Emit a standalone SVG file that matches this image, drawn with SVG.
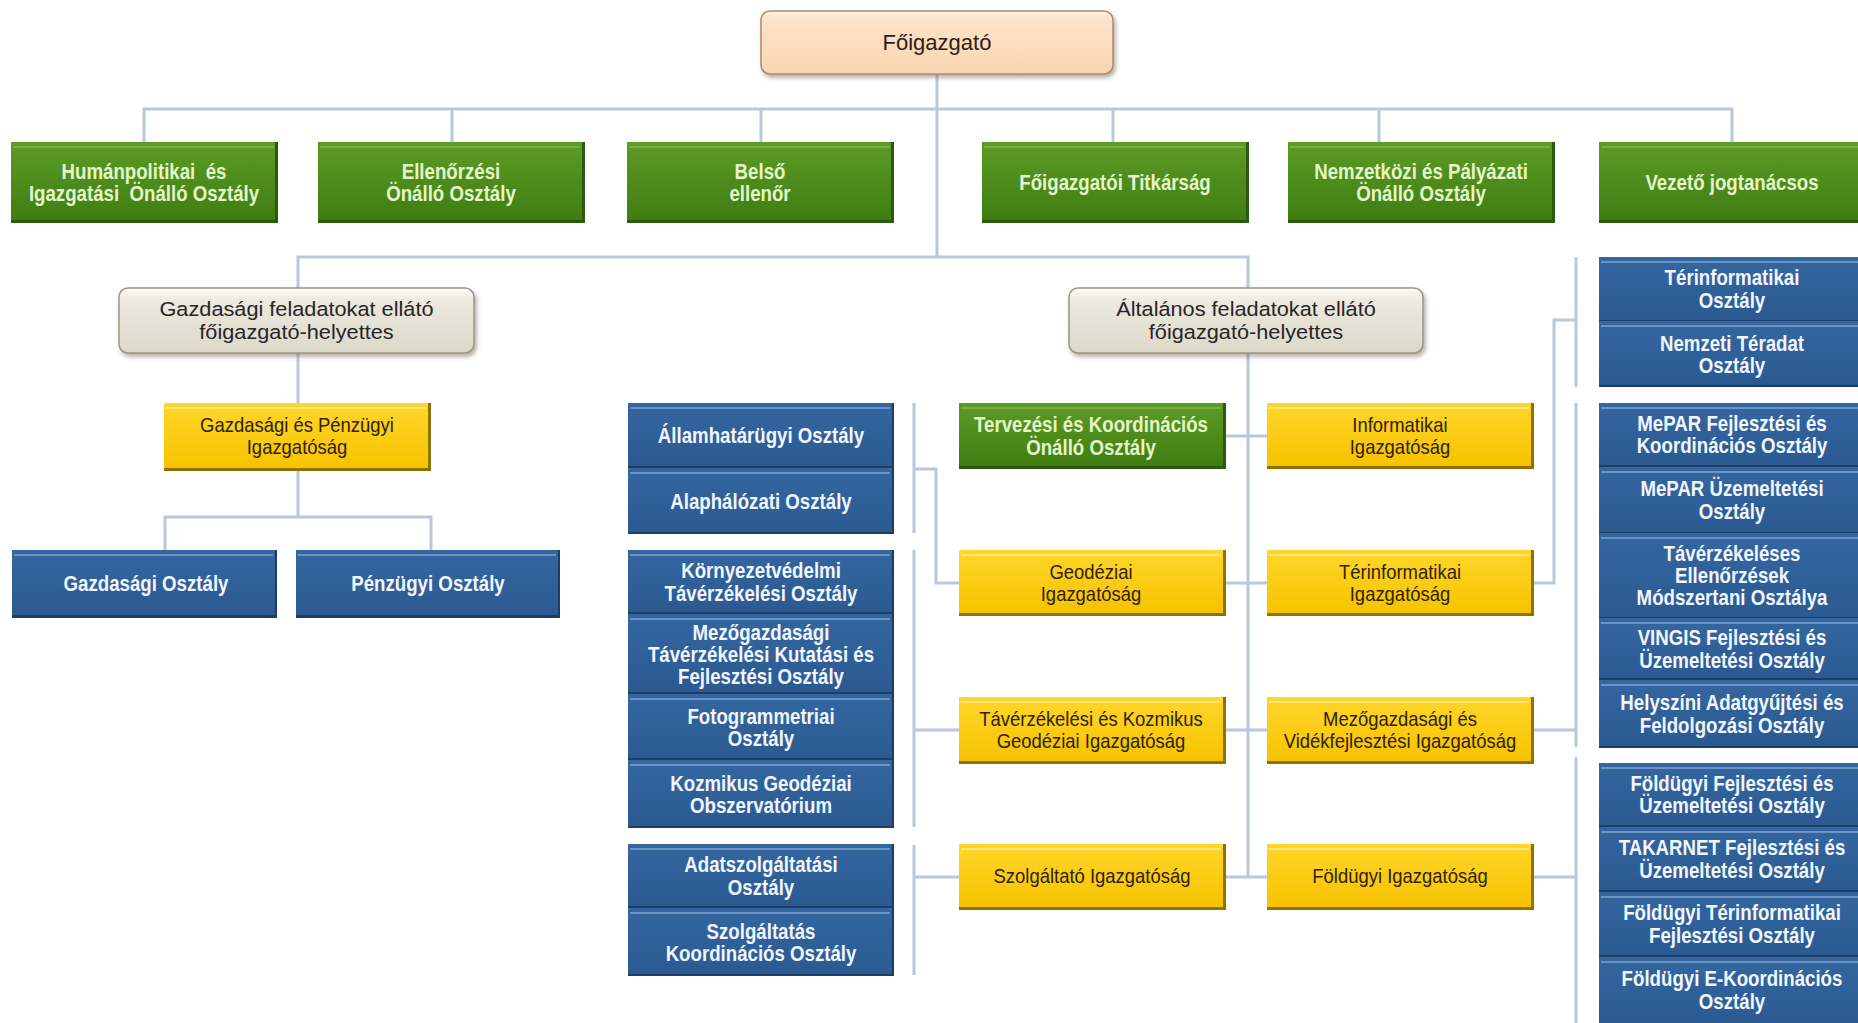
<svg xmlns="http://www.w3.org/2000/svg" width="1858" height="1023" viewBox="0 0 1858 1023">
<defs>
<linearGradient id="gPeach" x1="0" y1="0" x2="0" y2="1"><stop offset="0" stop-color="#fff2e2"/><stop offset="0.15" stop-color="#fde3c8"/><stop offset="1" stop-color="#f9d5b0"/></linearGradient>
<linearGradient id="gGrey" x1="0" y1="0" x2="0" y2="1"><stop offset="0" stop-color="#fbfaf5"/><stop offset="0.2" stop-color="#ede9df"/><stop offset="1" stop-color="#ddd8c9"/></linearGradient>
<linearGradient id="gGreen" x1="0" y1="0" x2="0" y2="1"><stop offset="0" stop-color="#5c9c26"/><stop offset="1" stop-color="#3f7d12"/></linearGradient>
<linearGradient id="gYellow" x1="0" y1="0" x2="0" y2="1"><stop offset="0" stop-color="#ffd62a"/><stop offset="1" stop-color="#f7c300"/></linearGradient>
<linearGradient id="gBlue" x1="0" y1="0" x2="0" y2="1"><stop offset="0" stop-color="#3466a0"/><stop offset="1" stop-color="#2b5a91"/></linearGradient>
<filter id="fs" x="-5%" y="-10%" width="112%" height="130%"><feDropShadow dx="2" dy="3" stdDeviation="2" flood-color="#5a4a3a" flood-opacity="0.45"/></filter>
</defs>
<style>
.bg{fill:#ffffff}
.con{fill:none;stroke:#b9c8dc;stroke-width:3}
.peach{fill:url(#gPeach);stroke:#a88c70;stroke-width:1.5;filter:url(#fs)}
.grey{fill:url(#gGrey);stroke:#9a9686;stroke-width:1.5;filter:url(#fs)}
.gsh{fill:#2c5a0b}
.green{fill:url(#gGreen)}
.ghl{stroke:#78b046;stroke-width:2}
.ysh{fill:#8f7200}
.yellow{fill:url(#gYellow)}
.yhl{stroke:#ffe680;stroke-width:2}
.bsh{fill:#1c3d66}
.blue{fill:url(#gBlue)}
.bhl{stroke:#6a93c4;stroke-width:2}
text{text-anchor:middle;font-family:"Liberation Sans",Arial,sans-serif}
.tp{font-size:22px;fill:#2a2218}
.td{font-size:20.5px;fill:#262626}
.tw{font-size:22.5px;font-weight:bold;fill:#f1f6ff}
.tgw{font-size:22.5px;font-weight:bold;fill:#e4f6c8}
.ty{font-size:20.5px;fill:#2e2200}
</style>
<rect class="bg" x="0" y="0" width="1858" height="1023"/>

<g id="connectors">
<path class="con" d="M937 74V257"/>
<path class="con" d="M144 142V109H1732V142M452 109V142M761 109V142M1113 109V142M1379 109V142"/>
<path class="con" d="M298 288V257H1248V877"/>
<path class="con" d="M298 353V403M298 470V517M165 550V517H431V550"/>
<path class="con" d="M1225 436H1267M1225 583H1267M1225 730H1267M1225 877H1267"/>
<path class="con" d="M914 403V533M914 469H936V583H959"/>
<path class="con" d="M914 550V827M914 730H959"/>
<path class="con" d="M914 845V975M914 877H959"/>
<path class="con" d="M1576 257V387M1533 583H1554V320H1576"/>
<path class="con" d="M1576 403V747M1533 730H1576"/>
<path class="con" d="M1576 757V1023M1533 877H1576"/>
</g>

<g id="n-foigazgato"><rect class="peach" x="761" y="11" width="352" height="63" rx="9"/><text class="tp" x="937" y="50">Főigazgató</text></g>

<g id="n-humanpol"><rect class="gsh" x="11" y="142" width="267" height="81"/><rect class="green" x="11" y="142" width="264" height="78"/><line class="ghl" x1="13" y1="147" x2="273" y2="147"/><text class="tgw" transform="translate(144 0) scale(0.83 1)" style="white-space:pre"><tspan x="0" y="178.75">Humánpolitikai  és</tspan><tspan x="0" y="201.25">Igazgatási  Önálló Osztály</tspan></text></g>
<g id="n-ellenorzesi"><rect class="gsh" x="318" y="142" width="267" height="81"/><rect class="green" x="318" y="142" width="264" height="78"/><line class="ghl" x1="320" y1="147" x2="580" y2="147"/><text class="tgw" transform="translate(451 0) scale(0.83 1)"><tspan x="0" y="178.75">Ellenőrzési</tspan><tspan x="0" y="201.25">Önálló Osztály</tspan></text></g>
<g id="n-belso"><rect class="gsh" x="627" y="142" width="267" height="81"/><rect class="green" x="627" y="142" width="264" height="78"/><line class="ghl" x1="629" y1="147" x2="889" y2="147"/><text class="tgw" transform="translate(760 0) scale(0.83 1)"><tspan x="0" y="178.75">Belső</tspan><tspan x="0" y="201.25">ellenőr</tspan></text></g>
<g id="n-titkarsag"><rect class="gsh" x="982" y="142" width="267" height="81"/><rect class="green" x="982" y="142" width="264" height="78"/><line class="ghl" x1="984" y1="147" x2="1244" y2="147"/><text class="tgw" transform="translate(1115 0) scale(0.83 1)" x="0" y="190">Főigazgatói Titkárság</text></g>
<g id="n-nemzetkozi"><rect class="gsh" x="1288" y="142" width="267" height="81"/><rect class="green" x="1288" y="142" width="264" height="78"/><line class="ghl" x1="1290" y1="147" x2="1550" y2="147"/><text class="tgw" transform="translate(1421 0) scale(0.83 1)"><tspan x="0" y="178.75">Nemzetközi és Pályázati</tspan><tspan x="0" y="201.25">Önálló Osztály</tspan></text></g>
<g id="n-jogtanacsos"><rect class="gsh" x="1599" y="142" width="267" height="81"/><rect class="green" x="1599" y="142" width="264" height="78"/><line class="ghl" x1="1601" y1="147" x2="1861" y2="147"/><text class="tgw" transform="translate(1732 0) scale(0.83 1)" x="0" y="190">Vezető jogtanácsos</text></g>

<g id="n-gazd-helyettes"><rect class="grey" x="119" y="288" width="355" height="65" rx="9"/><text class="td" transform="translate(296.5 0) scale(1.06 1)"><tspan x="0" y="316.2">Gazdasági feladatokat ellátó</tspan><tspan x="0" y="339.2">főigazgató-helyettes</tspan></text></g>
<g id="n-alt-helyettes"><rect class="grey" x="1069" y="288" width="354" height="65" rx="9"/><text class="td" transform="translate(1246 0) scale(1.06 1)"><tspan x="0" y="316.2">Általános feladatokat ellátó</tspan><tspan x="0" y="339.2">főigazgató-helyettes</tspan></text></g>

<g id="n-gp-igazgatosag"><rect class="ysh" x="164" y="403" width="267" height="68"/><rect class="yellow" x="164" y="403" width="264" height="65"/><line class="yhl" x1="166" y1="408" x2="426" y2="408"/><text class="ty" transform="translate(297 0) scale(0.9 1)"><tspan x="0" y="432">Gazdasági és Pénzügyi</tspan><tspan x="0" y="454">Igazgatóság</tspan></text></g>
<g id="n-gazdasagi-osztaly"><rect class="bsh" x="12" y="550" width="265" height="68"/><rect class="blue" x="12" y="550" width="263" height="65"/><line class="bhl" x1="14" y1="555" x2="273" y2="555"/><text class="tw" transform="translate(146 0) scale(0.83 1)" x="0" y="591.5">Gazdasági Osztály</text></g>
<g id="n-penzugyi-osztaly"><rect class="bsh" x="296" y="550" width="264" height="68"/><rect class="blue" x="296" y="550" width="262" height="65"/><line class="bhl" x1="298" y1="555" x2="556" y2="555"/><text class="tw" transform="translate(428 0) scale(0.83 1)" x="0" y="591.5">Pénzügyi Osztály</text></g>

<g id="n-tervezesi"><rect class="gsh" x="959" y="403" width="267" height="66"/><rect class="green" x="959" y="403" width="264" height="63"/><line class="ghl" x1="961" y1="408" x2="1221" y2="408"/><text class="tgw" transform="translate(1091 0) scale(0.83 1)"><tspan x="0" y="432.25">Tervezési és Koordinációs</tspan><tspan x="0" y="454.75">Önálló Osztály</tspan></text></g>
<g id="n-informatikai"><rect class="ysh" x="1267" y="403" width="267" height="66"/><rect class="yellow" x="1267" y="403" width="264" height="63"/><line class="yhl" x1="1269" y1="408" x2="1529" y2="408"/><text class="ty" transform="translate(1400 0) scale(0.9 1)"><tspan x="0" y="432">Informatikai</tspan><tspan x="0" y="454">Igazgatóság</tspan></text></g>
<g id="n-geodeziai"><rect class="ysh" x="959" y="550" width="267" height="66"/><rect class="yellow" x="959" y="550" width="264" height="63"/><line class="yhl" x1="961" y1="555" x2="1221" y2="555"/><text class="ty" transform="translate(1091 0) scale(0.9 1)"><tspan x="0" y="579">Geodéziai</tspan><tspan x="0" y="601">Igazgatóság</tspan></text></g>
<g id="n-terinf-ig"><rect class="ysh" x="1267" y="550" width="267" height="66"/><rect class="yellow" x="1267" y="550" width="264" height="63"/><line class="yhl" x1="1269" y1="555" x2="1529" y2="555"/><text class="ty" transform="translate(1400 0) scale(0.9 1)"><tspan x="0" y="579">Térinformatikai</tspan><tspan x="0" y="601">Igazgatóság</tspan></text></g>
<g id="n-taverzekelesi-ig"><rect class="ysh" x="959" y="697" width="267" height="67"/><rect class="yellow" x="959" y="697" width="264" height="64"/><line class="yhl" x1="961" y1="702" x2="1221" y2="702"/><text class="ty" transform="translate(1091 0) scale(0.9 1)"><tspan x="0" y="726.5">Távérzékelési és Kozmikus</tspan><tspan x="0" y="748.5">Geodéziai Igazgatóság</tspan></text></g>
<g id="n-mezogazdasagi-ig"><rect class="ysh" x="1267" y="697" width="267" height="67"/><rect class="yellow" x="1267" y="697" width="264" height="64"/><line class="yhl" x1="1269" y1="702" x2="1529" y2="702"/><text class="ty" transform="translate(1400 0) scale(0.9 1)"><tspan x="0" y="726.5">Mezőgazdasági és</tspan><tspan x="0" y="748.5">Vidékfejlesztési Igazgatóság</tspan></text></g>
<g id="n-szolgaltato-ig"><rect class="ysh" x="959" y="844" width="267" height="66"/><rect class="yellow" x="959" y="844" width="264" height="63"/><line class="yhl" x1="961" y1="849" x2="1221" y2="849"/><text class="ty" transform="translate(1092 0) scale(0.9 1)" x="0" y="883">Szolgáltató Igazgatóság</text></g>
<g id="n-foldugyi-ig"><rect class="ysh" x="1267" y="844" width="267" height="66"/><rect class="yellow" x="1267" y="844" width="264" height="63"/><line class="yhl" x1="1269" y1="849" x2="1529" y2="849"/><text class="ty" transform="translate(1400 0) scale(0.9 1)" x="0" y="883">Földügyi Igazgatóság</text></g>

<g id="n-allamhatar"><rect class="bsh" x="628" y="403" width="266" height="65"/><rect class="blue" x="628" y="403" width="264" height="63"/><line class="bhl" x1="630" y1="408" x2="890" y2="408"/><text class="tw" transform="translate(761 0) scale(0.83 1)" x="0" y="443">Államhatárügyi Osztály</text></g>
<g id="n-alaphalozati"><rect class="bsh" x="628" y="468" width="266" height="66"/><rect class="blue" x="628" y="468" width="264" height="64"/><line class="bhl" x1="630" y1="473" x2="890" y2="473"/><text class="tw" transform="translate(761 0) scale(0.83 1)" x="0" y="509">Alaphálózati Osztály</text></g>
<g id="n-kornyezet"><rect class="bsh" x="628" y="550" width="266" height="64"/><rect class="blue" x="628" y="550" width="264" height="62"/><line class="bhl" x1="630" y1="555" x2="890" y2="555"/><text class="tw" transform="translate(761 0) scale(0.83 1)"><tspan x="0" y="578.25">Környezetvédelmi</tspan><tspan x="0" y="600.75">Távérzékelési Osztály</tspan></text></g>
<g id="n-mezo-tav"><rect class="bsh" x="628" y="614" width="266" height="80"/><rect class="blue" x="628" y="614" width="264" height="78"/><line class="bhl" x1="630" y1="619" x2="890" y2="619"/><text class="tw" transform="translate(761 0) scale(0.83 1)"><tspan x="0" y="640">Mezőgazdasági</tspan><tspan x="0" y="662">Távérzékelési Kutatási és</tspan><tspan x="0" y="684">Fejlesztési Osztály</tspan></text></g>
<g id="n-fotogram"><rect class="bsh" x="628" y="694" width="266" height="66"/><rect class="blue" x="628" y="694" width="264" height="64"/><line class="bhl" x1="630" y1="699" x2="890" y2="699"/><text class="tw" transform="translate(761 0) scale(0.83 1)"><tspan x="0" y="723.75">Fotogrammetriai</tspan><tspan x="0" y="746.25">Osztály</tspan></text></g>
<g id="n-kozmikus"><rect class="bsh" x="628" y="760" width="266" height="68"/><rect class="blue" x="628" y="760" width="264" height="66"/><line class="bhl" x1="630" y1="765" x2="890" y2="765"/><text class="tw" transform="translate(761 0) scale(0.83 1)"><tspan x="0" y="790.75">Kozmikus Geodéziai</tspan><tspan x="0" y="813.25">Obszervatórium</tspan></text></g>
<g id="n-adatszolg"><rect class="bsh" x="628" y="844" width="266" height="64"/><rect class="blue" x="628" y="844" width="264" height="62"/><line class="bhl" x1="630" y1="849" x2="890" y2="849"/><text class="tw" transform="translate(761 0) scale(0.83 1)"><tspan x="0" y="872.25">Adatszolgáltatási</tspan><tspan x="0" y="894.75">Osztály</tspan></text></g>
<g id="n-szolg-koord"><rect class="bsh" x="628" y="908" width="266" height="68"/><rect class="blue" x="628" y="908" width="264" height="66"/><line class="bhl" x1="630" y1="913" x2="890" y2="913"/><text class="tw" transform="translate(761 0) scale(0.83 1)"><tspan x="0" y="938.75">Szolgáltatás</tspan><tspan x="0" y="961.25">Koordinációs Osztály</tspan></text></g>

<g id="n-terinf-oszt"><rect class="bsh" x="1599" y="257" width="267" height="65"/><rect class="blue" x="1599" y="257" width="267" height="63"/><line class="bhl" x1="1601" y1="262" x2="1866" y2="262"/><text class="tw" transform="translate(1732 0) scale(0.83 1)"><tspan x="0" y="285.25">Térinformatikai</tspan><tspan x="0" y="307.75">Osztály</tspan></text></g>
<g id="n-nemzeti-teradat"><rect class="bsh" x="1599" y="321" width="267" height="66"/><rect class="blue" x="1599" y="321" width="267" height="64"/><line class="bhl" x1="1601" y1="326" x2="1866" y2="326"/><text class="tw" transform="translate(1732 0) scale(0.83 1)"><tspan x="0" y="350.75">Nemzeti Téradat</tspan><tspan x="0" y="373.25">Osztály</tspan></text></g>
<g id="n-mepar-fejl"><rect class="bsh" x="1599" y="403" width="267" height="64"/><rect class="blue" x="1599" y="403" width="267" height="62"/><line class="bhl" x1="1601" y1="408" x2="1866" y2="408"/><text class="tw" transform="translate(1732 0) scale(0.83 1)"><tspan x="0" y="430.75">MePAR Fejlesztési és</tspan><tspan x="0" y="453.25">Koordinációs Osztály</tspan></text></g>
<g id="n-mepar-uzem"><rect class="bsh" x="1599" y="467" width="267" height="67"/><rect class="blue" x="1599" y="467" width="267" height="65"/><line class="bhl" x1="1601" y1="472" x2="1866" y2="472"/><text class="tw" transform="translate(1732 0) scale(0.83 1)"><tspan x="0" y="496.25">MePAR Üzemeltetési</tspan><tspan x="0" y="518.75">Osztály</tspan></text></g>
<g id="n-taverz-ellen"><rect class="bsh" x="1599" y="533" width="267" height="86"/><rect class="blue" x="1599" y="533" width="267" height="84"/><line class="bhl" x1="1601" y1="538" x2="1866" y2="538"/><text class="tw" transform="translate(1732 0) scale(0.83 1)"><tspan x="0" y="561">Távérzékeléses</tspan><tspan x="0" y="583">Ellenőrzések</tspan><tspan x="0" y="605">Módszertani Osztálya</tspan></text></g>
<g id="n-vingis"><rect class="bsh" x="1599" y="618" width="267" height="62"/><rect class="blue" x="1599" y="618" width="267" height="60"/><line class="bhl" x1="1601" y1="623" x2="1866" y2="623"/><text class="tw" transform="translate(1732 0) scale(0.83 1)"><tspan x="0" y="645.25">VINGIS Fejlesztési és</tspan><tspan x="0" y="667.75">Üzemeltetési Osztály</tspan></text></g>
<g id="n-helyszini"><rect class="bsh" x="1599" y="680" width="267" height="68"/><rect class="blue" x="1599" y="680" width="267" height="66"/><line class="bhl" x1="1601" y1="685" x2="1866" y2="685"/><text class="tw" transform="translate(1732 0) scale(0.83 1)"><tspan x="0" y="710.25">Helyszíni Adatgyűjtési és</tspan><tspan x="0" y="732.75">Feldolgozási Osztály</tspan></text></g>
<g id="n-foldugyi-fejl"><rect class="bsh" x="1599" y="763" width="267" height="64"/><rect class="blue" x="1599" y="763" width="267" height="62"/><line class="bhl" x1="1601" y1="768" x2="1866" y2="768"/><text class="tw" transform="translate(1732 0) scale(0.83 1)"><tspan x="0" y="790.75">Földügyi Fejlesztési és</tspan><tspan x="0" y="813.25">Üzemeltetési Osztály</tspan></text></g>
<g id="n-takarnet"><rect class="bsh" x="1599" y="827" width="267" height="65"/><rect class="blue" x="1599" y="827" width="267" height="63"/><line class="bhl" x1="1601" y1="832" x2="1866" y2="832"/><text class="tw" transform="translate(1732 0) scale(0.83 1)"><tspan x="0" y="855.25">TAKARNET Fejlesztési és</tspan><tspan x="0" y="877.75">Üzemeltetési Osztály</tspan></text></g>
<g id="n-foldugyi-terinf"><rect class="bsh" x="1599" y="892" width="267" height="65"/><rect class="blue" x="1599" y="892" width="267" height="63"/><line class="bhl" x1="1601" y1="897" x2="1866" y2="897"/><text class="tw" transform="translate(1732 0) scale(0.83 1)"><tspan x="0" y="920.25">Földügyi Térinformatikai</tspan><tspan x="0" y="942.75">Fejlesztési Osztály</tspan></text></g>
<g id="n-foldugyi-ekoord"><rect class="bsh" x="1599" y="957" width="267" height="68"/><rect class="blue" x="1599" y="957" width="267" height="66"/><line class="bhl" x1="1601" y1="962" x2="1866" y2="962"/><text class="tw" transform="translate(1732 0) scale(0.83 1)"><tspan x="0" y="986.25">Földügyi E-Koordinációs</tspan><tspan x="0" y="1008.75">Osztály</tspan></text></g>
</svg>
